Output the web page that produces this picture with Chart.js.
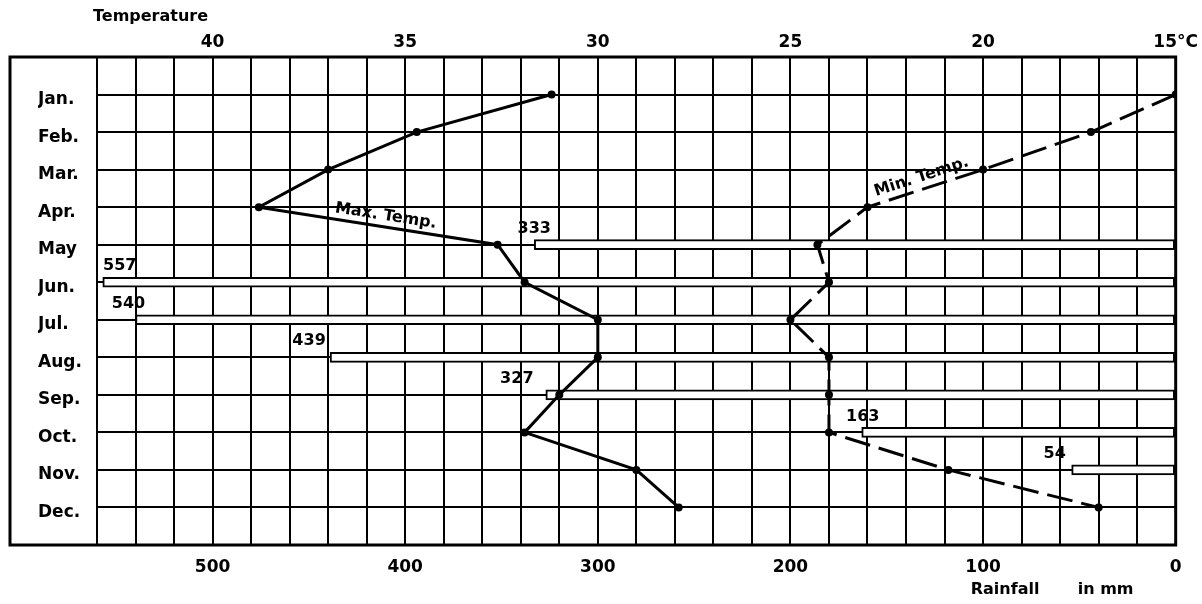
<!DOCTYPE html>
<html>
<head>
<meta charset="utf-8">
<script src="https://cdn.jsdelivr.net/npm/chart.js@4/dist/chart.umd.min.js"></script>
<style>
html,body{margin:0;padding:0;background:#fff;}
#wrap{width:1202px;height:604px;position:relative;}
</style>
</head>
<body>
<div id="wrap"><canvas id="c" width="1202" height="604"></canvas></div>
<script>
// ---- data ----
const months = ['Jan.','Feb.','Mar.','Apr.','May','Jun.','Jul.','Aug.','Sep.','Oct.','Nov.','Dec.'];
const maxTemp = [31.2, 34.7, 37.0, 38.8, 32.6, 31.9, 30.0, 30.0, 31.0, 31.9, 29.0, 27.9];
const minTemp = [15.0, 17.2, 20.0, 23.0, 24.3, 24.0, 25.0, 24.0, 24.0, 24.0, 20.9, 17.0];
const rainfall = [null, null, null, null, 333, 557, 540, 439, 327, 163, 54, null];
const tempRange = [15, 43];      // °C, right to left
const rainRange = [0, 560];      // mm, right to left

// ---- style (label placement only) ----
const valueLabelShift = [0, 0, 0, 0, 0, 17, -7, -21, -29, 1, -17, 0];

const FONT = 'DejaVu Sans';
Chart.defaults.font.family = FONT;
Chart.defaults.color = '#000';

const decor = {
  id: 'decor',
  afterDatasetsDraw(chart) {
    const ctx = chart.ctx;
    const xs = chart.scales.x, x2 = chart.scales.x2, ys = chart.scales.y;
    ctx.save();
    ctx.fillStyle = '#000';
    // rainfall value labels
    ctx.font = 'bold 16px ' + FONT;
    ctx.textAlign = 'center';
    ctx.textBaseline = 'middle';
    rainfall.forEach((v, i) => {
      if (v == null) return;
      const px = xs.getPixelForValue(v) + valueLabelShift[i];
      const py = ys.getPixelForValue(i) - 16;
      ctx.fillText(String(v), px, py);
    });
    // series labels along their lines
    const lineLabel = (text, arr, i1, i2, along, perp) => {
      let p1 = {x: x2.getPixelForValue(arr[i1]), y: ys.getPixelForValue(i1)};
      let p2 = {x: x2.getPixelForValue(arr[i2]), y: ys.getPixelForValue(i2)};
      if (p2.x < p1.x) { const t = p1; p1 = p2; p2 = t; }
      const a = Math.atan2(p2.y - p1.y, p2.x - p1.x);
      const mx = (p1.x + p2.x) / 2, my = (p1.y + p2.y) / 2;
      const cx = mx + Math.cos(a) * along + Math.sin(a) * perp;
      const cy = my + Math.sin(a) * along - Math.cos(a) * perp;
      ctx.save();
      ctx.translate(cx, cy);
      ctx.rotate(a);
      ctx.font = 'bold 16px ' + FONT;
      ctx.textAlign = 'center';
      ctx.textBaseline = 'middle';
      ctx.fillText(text, 0, 0);
      ctx.restore();
    };
    lineLabel(chart.data.datasets[0].label, maxTemp, 3, 4, 6, 11);
    lineLabel(chart.data.datasets[1].label, minTemp, 2, 3, 0, 12);
    ctx.restore();
  },
  afterDraw(chart) {
    const ctx = chart.ctx;
    const a = chart.chartArea;
    const ys = chart.scales.y;
    ctx.save();
    ctx.strokeStyle = '#000';
    ctx.lineWidth = 3;
    const left = ys.left - 28;
    ctx.strokeRect(left, a.top, a.right - left, a.bottom - a.top);
    // axis titles
    ctx.fillStyle = '#000';
    ctx.font = 'bold 16px ' + FONT;
    ctx.textAlign = 'left';
    ctx.textBaseline = 'middle';
    ctx.fillText('Temperature', a.left - 4, 17);
    ctx.fillText('Rainfall', a.right - 205, 590);
    ctx.fillText('in mm', a.right - 98, 590);
    ctx.restore();
  }
};

new Chart(document.getElementById('c').getContext('2d'), {
  type: 'bar',
  data: {
    datasets: [
      {
        type: 'line', label: 'Max. Temp.',
        data: months.map((m, i) => ({x: maxTemp[i], y: i})),
        xAxisID: 'x2', yAxisID: 'y',
        borderColor: '#000', borderWidth: 3,
        pointRadius: 4, pointBackgroundColor: '#000', pointBorderWidth: 0,
        tension: 0, order: 0
      },
      {
        type: 'line', label: 'Min. Temp.',
        data: months.map((m, i) => ({x: minTemp[i], y: i})),
        xAxisID: 'x2', yAxisID: 'y',
        borderColor: '#000', borderWidth: 3, borderDash: [26, 9],
        pointRadius: 4, pointBackgroundColor: '#000', pointBorderWidth: 0,
        tension: 0, order: 0
      },
      {
        type: 'bar', label: 'Rainfall',
        data: months.map((m, i) => ({x: rainfall[i], y: i})).filter(d => d.x != null),
        xAxisID: 'x', yAxisID: 'y',
        backgroundColor: '#fff', borderColor: '#000', borderWidth: 2,
        barThickness: 10, borderSkipped: false, order: 1
      }
    ]
  },
  options: {
    indexAxis: 'y',
    responsive: false,
    animation: false,
    devicePixelRatio: 1,
    layout: {padding: {left: 38, right: 26, top: 0, bottom: 0}},
    plugins: {legend: {display: false}, tooltip: {enabled: false}},
    scales: {
      x: {
        type: 'linear', position: 'bottom', reverse: true,
        min: rainRange[0], max: rainRange[1], offset: false,
        grid: {color: '#000', lineWidth: 2, drawTicks: false, offset: false},
        border: {display: false},
        ticks: {
          stepSize: 20, includeBounds: false, autoSkip: false, maxRotation: 0, maxTicksLimit: 100,
          padding: 12, font: {size: 17, weight: 'bold'}, color: '#000',
          callback: v => (v % 100 === 0 ? String(v) : '')
        },
        afterFit: s => { s.height = 59; }
      },
      x2: {
        type: 'linear', position: 'top', reverse: true,
        min: tempRange[0], max: tempRange[1], offset: false,
        grid: {display: false, drawTicks: false},
        border: {display: false},
        ticks: {
          stepSize: 5, includeBounds: false, autoSkip: false, maxRotation: 0, maxTicksLimit: 100,
          padding: 4, font: {size: 17, weight: 'bold'}, color: '#000',
          callback: v => (v === tempRange[0] ? v + '°C' : String(v))
        },
        afterFit: s => { s.height = 57; }
      },
      y: {
        type: 'linear', reverse: true, min: -1, max: 12, offset: false,
        grid: {color: '#000', lineWidth: 2, drawTicks: false, offset: false},
        border: {display: false},
        ticks: {
          stepSize: 1, autoSkip: false, crossAlign: 'far', maxTicksLimit: 100,
          font: {size: 17, weight: 'bold', lineHeight: 0.6}, color: '#000',
          callback: v => (months[v] !== undefined ? ['', months[v]] : '')
        },
        afterFit: s => { s.width = 59; }
      }
    }
  },
  plugins: [decor]
});
</script>
</body>
</html>
